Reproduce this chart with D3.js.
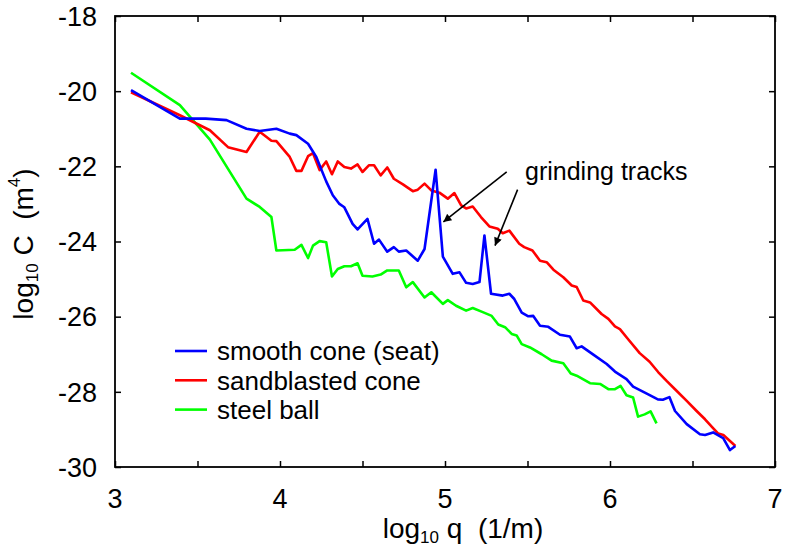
<!DOCTYPE html>
<html>
<head>
<meta charset="utf-8">
<script src="https://cdn.jsdelivr.net/npm/d3@7"></script>
<style>
  body { margin: 0; background: #fff; }
  svg { display: block; font-family: "Liberation Sans", Arial, Helvetica, sans-serif; }
</style>
</head>
<body>
<svg width="789" height="551"></svg>
<script>
// data: log10 q and log10 C
const smoothQ = [3.097, 3.393, 3.55, 3.676, 3.797, 3.877, 3.978, 4.059, 4.099, 4.17, 4.22, 4.24, 4.28, 4.32, 4.36, 4.39, 4.44, 4.47, 4.53, 4.57, 4.60, 4.65, 4.69, 4.72, 4.765, 4.835, 4.876, 4.943, 4.987, 5.047, 5.088, 5.128, 5.168, 5.209, 5.239, 5.279, 5.35, 5.39, 5.42, 5.465, 5.505, 5.535, 5.576, 5.626, 5.697, 5.757, 5.798, 5.828, 5.899, 5.98, 6.03, 6.1, 6.14, 6.22, 6.29, 6.32, 6.36, 6.394, 6.465, 6.545, 6.576, 6.625, 6.686, 6.727, 6.76];
const smoothC = [-19.97, -20.73, -20.73, -20.77, -21.0, -21.06, -21.0, -21.13, -21.17, -21.4, -21.75, -21.97, -22.4, -22.77, -23.0, -23.09, -23.53, -23.68, -23.4, -24.06, -23.95, -24.27, -24.15, -24.27, -24.24, -24.51, -24.2, -22.09, -24.4, -24.86, -24.82, -25.1, -25.13, -25.08, -23.84, -25.39, -25.44, -25.39, -25.53, -25.89, -25.99, -25.98, -26.24, -26.27, -26.48, -26.53, -26.84, -26.79, -27.01, -27.26, -27.46, -27.66, -27.86, -28.04, -28.2, -28.21, -28.14, -28.51, -28.86, -29.13, -29.15, -29.08, -29.23, -29.55, -29.44];

const sandQ = [3.097, 3.393, 3.575, 3.685, 3.797, 3.877, 3.948, 3.978, 4.059, 4.099, 4.13, 4.17, 4.2, 4.24, 4.28, 4.315, 4.35, 4.39, 4.43, 4.47, 4.5, 4.54, 4.57, 4.61, 4.65, 4.69, 4.745, 4.805, 4.835, 4.876, 4.917, 4.966, 5.017, 5.057, 5.098, 5.128, 5.168, 5.218, 5.269, 5.32, 5.35, 5.39, 5.45, 5.48, 5.53, 5.576, 5.616, 5.657, 5.717, 5.768, 5.798, 5.838, 5.879, 5.949, 5.99, 6.03, 6.06, 6.11, 6.18, 6.24, 6.293, 6.343, 6.394, 6.465, 6.525, 6.576, 6.626, 6.656, 6.687, 6.727, 6.76];
const sandC = [-20.03, -20.64, -21.04, -21.49, -21.62, -21.08, -21.32, -21.33, -21.75, -22.12, -22.12, -21.73, -21.65, -22.1, -21.87, -22.21, -21.87, -22.02, -22.06, -21.95, -22.15, -21.97, -21.97, -22.24, -22.03, -22.33, -22.48, -22.66, -22.62, -22.46, -22.64, -22.7, -22.86, -22.71, -23.04, -23.12, -23.07, -23.35, -23.6, -23.66, -23.78, -23.71, -24.06, -24.15, -24.24, -24.51, -24.55, -24.75, -24.95, -25.17, -25.21, -25.57, -25.62, -25.93, -26.06, -26.26, -26.33, -26.6, -26.97, -27.2, -27.48, -27.71, -27.93, -28.24, -28.51, -28.73, -28.97, -29.11, -29.15, -29.31, -29.44];

const ballQ = [3.097, 3.393, 3.575, 3.797, 3.877, 3.948, 3.978, 4.089, 4.13, 4.17, 4.2, 4.24, 4.28, 4.315, 4.35, 4.39, 4.43, 4.47, 4.5, 4.56, 4.61, 4.65, 4.72, 4.765, 4.805, 4.876, 4.917, 4.987, 5.017, 5.067, 5.128, 5.168, 5.229, 5.283, 5.323, 5.364, 5.404, 5.434, 5.465, 5.515, 5.586, 5.646, 5.717, 5.762, 5.798, 5.879, 5.94, 5.99, 6.03, 6.064, 6.1, 6.14, 6.17, 6.21, 6.246, 6.282];
const ballC = [-19.51, -20.37, -21.29, -22.86, -23.08, -23.35, -24.24, -24.22, -24.09, -24.44, -24.11, -23.99, -24.02, -24.93, -24.73, -24.66, -24.66, -24.58, -24.91, -24.93, -24.88, -24.77, -24.77, -25.22, -25.08, -25.49, -25.35, -25.66, -25.56, -25.71, -25.84, -25.77, -25.88, -25.98, -26.21, -26.28, -26.46, -26.5, -26.73, -26.82, -27.0, -27.17, -27.24, -27.51, -27.57, -27.77, -27.79, -27.93, -27.93, -27.84, -28.09, -28.15, -28.66, -28.6, -28.52, -28.84];

const seriesNames = ["smooth cone (seat)", "sandblasted cone", "steel ball"];
const seriesColors = ["#0000ff", "#ff0000", "#00ff00"];

const xTicks = [3, 3.5, 4, 4.5, 5, 5.5, 6, 6.5, 7];
const xTickLabels = [3, 4, 5, 6, 7];
const yTicks = [-18, -20, -22, -24, -26, -28, -30];

// arrows for the "grinding tracks" note, [q0, C0, q1, C1]
const arrows = [[5.374, -22.15, 4.99, -23.48], [5.44, -22.62, 5.303, -24.11]];

const svg = d3.select("svg");
const margin = { top: 16, right: 14, bottom: 84, left: 115 };
const width = 789 - margin.left - margin.right;
const height = 551 - margin.top - margin.bottom;

const x = d3.scaleLinear().domain([3, 7]).range([0, width]);
const y = d3.scaleLinear().domain([-30, -18]).range([height, 0]);

const g = svg.append("g").attr("transform", `translate(${margin.left},${margin.top})`);

// ticks on all four sides, pointing inwards
g.append("g").attr("transform", `translate(0,${height})`)
  .call(d3.axisBottom(x).tickValues(xTicks).tickSizeInner(-6).tickSizeOuter(0).tickFormat(""));
g.append("g")
  .call(d3.axisTop(x).tickValues(xTicks).tickSizeInner(-6).tickSizeOuter(0).tickFormat(""));
g.append("g")
  .call(d3.axisLeft(y).tickValues(yTicks).tickSizeInner(-6).tickSizeOuter(0).tickFormat(""));
g.append("g").attr("transform", `translate(${width},0)`)
  .call(d3.axisRight(y).tickValues(yTicks).tickSizeInner(-6).tickSizeOuter(0).tickFormat(""));
g.selectAll(".domain").remove();
g.selectAll(".tick line").attr("stroke", "#000").attr("stroke-width", 1.5);

g.append("rect")
  .attr("width", width).attr("height", height)
  .attr("fill", "none").attr("stroke", "#000").attr("stroke-width", 1.8);

// tick labels
g.selectAll(".xlab").data(xTickLabels).enter().append("text")
  .attr("x", d => x(d)).attr("y", height + 41)
  .attr("text-anchor", "middle").attr("font-size", 27).text(d => d);
g.selectAll(".ylab").data(yTicks).enter().append("text")
  .attr("x", -18).attr("y", d => y(d)).attr("dy", "0.36em")
  .attr("text-anchor", "end").attr("font-size", 27).text(d => d);

// axis titles (double space kept with nbsp)
const xt = g.append("text").attr("x", 348).attr("y", height + 71)
  .attr("text-anchor", "middle").attr("font-size", 28);
xt.append("tspan").text("log");
xt.append("tspan").attr("font-size", 17).attr("dy", 5).text("10");
xt.append("tspan").attr("dy", -5).text(" q\u00a0 (1/m)");

const yt = g.append("text")
  .attr("transform", `translate(${-82},${228}) rotate(-90)`)
  .attr("text-anchor", "middle").attr("font-size", 28);
yt.append("tspan").text("log");
yt.append("tspan").attr("font-size", 17).attr("dy", 5).text("10");
yt.append("tspan").attr("dy", -5).text(" C\u00a0 (m");
yt.append("tspan").attr("font-size", 17).attr("dy", -13).text("4");
yt.append("tspan").attr("dy", 13).text(")");

// curves
const line = d3.line().x(d => x(d[0])).y(d => y(d[1]));
const series = [
  d3.zip(smoothQ, smoothC),
  d3.zip(sandQ, sandC),
  d3.zip(ballQ, ballC)
];
// draw green first so blue and red sit on top
[2, 1, 0].forEach(i => {
  g.append("path").datum(series[i])
    .attr("fill", "none").attr("stroke", seriesColors[i])
    .attr("stroke-width", 2.6).attr("stroke-linejoin", "round")
    .attr("d", line);
});

// legend
const legend = g.append("g").attr("transform", "translate(60,335)");
seriesNames.forEach((name, i) => {
  legend.append("line")
    .attr("x1", 0).attr("x2", 32).attr("y1", i * 29.3).attr("y2", i * 29.3)
    .attr("stroke", seriesColors[i]).attr("stroke-width", 2.6);
  legend.append("text")
    .attr("x", 42).attr("y", i * 29.3).attr("dy", "0.36em")
    .attr("font-size", 26).text(name);
});

// annotation
svg.append("defs").append("marker")
  .attr("id", "head").attr("viewBox", "0 0 10 10")
  .attr("refX", 10).attr("refY", 5)
  .attr("markerWidth", 11).attr("markerHeight", 8)
  .attr("markerUnits", "userSpaceOnUse")
  .attr("orient", "auto")
  .append("path").attr("d", "M0,0 L10,5 L0,10 z").attr("fill", "#000");

g.selectAll(".arrow").data(arrows).enter().append("line")
  .attr("x1", d => x(d[0])).attr("y1", d => y(d[1]))
  .attr("x2", d => x(d[2])).attr("y2", d => y(d[3]))
  .attr("stroke", "#000").attr("stroke-width", 1.6)
  .attr("marker-end", "url(#head)");

g.append("text")
  .attr("x", x(5.485)).attr("y", y(-22.37))
  .attr("font-size", 25).text("grinding tracks");
</script>
</body>
</html>
